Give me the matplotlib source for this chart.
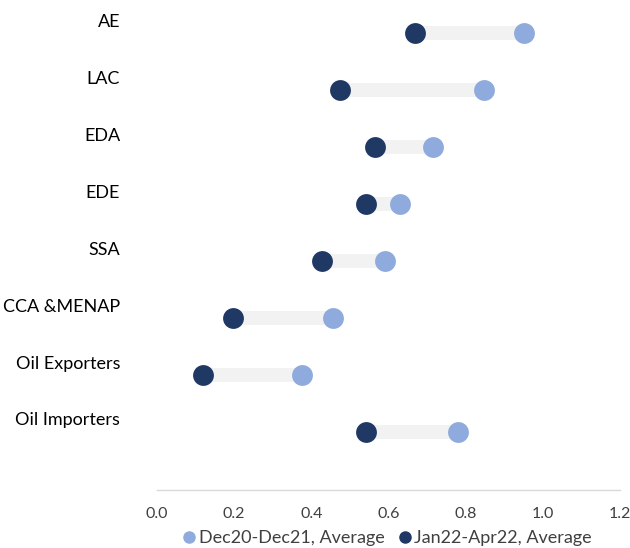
import matplotlib
matplotlib.use("Agg")
import matplotlib.pyplot as plt
from matplotlib.lines import Line2D
import matplotlib.transforms as mtransforms

categories = ["AE", "LAC", "EDA", "EDE", "SSA", "CCA &MENAP", "Oil Exporters", "Oil Importers"]
dec20_dec21 = [0.951, 0.847, 0.716, 0.630, 0.591, 0.456, 0.377, 0.780]
jan22_apr22 = [0.669, 0.475, 0.565, 0.542, 0.428, 0.196, 0.119, 0.542]
xticks = [0.0, 0.2, 0.4, 0.6, 0.8, 1.0, 1.2]
series_names = ["Dec20-Dec21, Average", "Jan22-Apr22, Average"]

light = "#8FAADC"
dark = "#203864"
font = "Lato"

W, H = 630, 548
fig = plt.figure(figsize=(W / 100, H / 100), dpi=100)
ax = fig.add_axes([157 / W, (H - 490) / H, (620 - 157) / W, 490 / H])

ys = list(range(len(categories)))
for y, a, b in zip(ys, dec20_dec21, jan22_apr22):
    ax.plot([min(a, b), max(a, b)], [y, y], color="#F2F2F2", lw=10, solid_capstyle="butt", zorder=1)
ax.scatter(dec20_dec21, ys, s=225, color=light, zorder=3, linewidths=0)
ax.scatter(jan22_apr22, ys, s=225, color=dark, zorder=3, linewidths=0)

ax.set_xlim(0, 1.2)
ax.set_ylim(8.02, -0.58)
ax.set_xticks(xticks)
ax.set_xticklabels([f"{t:.1f}" for t in xticks], fontsize=11.5, color="#404040", family=font)
ax.tick_params(axis="x", length=0, pad=12)
ax.set_yticks([])
for s in ["top", "right", "left"]:
    ax.spines[s].set_visible(False)
ax.spines["bottom"].set_color("#D9D9D9")
ax.spines["bottom"].set_linewidth(1)

trans = mtransforms.blended_transform_factory(fig.transFigure, ax.transData)
for y, c in zip(ys, categories):
    ax.text(120 / W, y - 0.2, c, transform=trans, ha="right", va="center",
            fontsize=13, color="#000000", family=font)

handles = [Line2D([], [], marker="o", ls="", color=light, markersize=8),
           Line2D([], [], marker="o", ls="", color=dark, markersize=8)]
fig.legend(handles, series_names, loc="center", bbox_to_anchor=(386 / W, 1 - 538 / H),
           ncol=2, frameon=False, prop={"family": font, "size": 13},
           handletextpad=0.05, columnspacing=0.6, handlelength=1.0, labelcolor="#404040")

fig.savefig("out.png", dpi=100)
